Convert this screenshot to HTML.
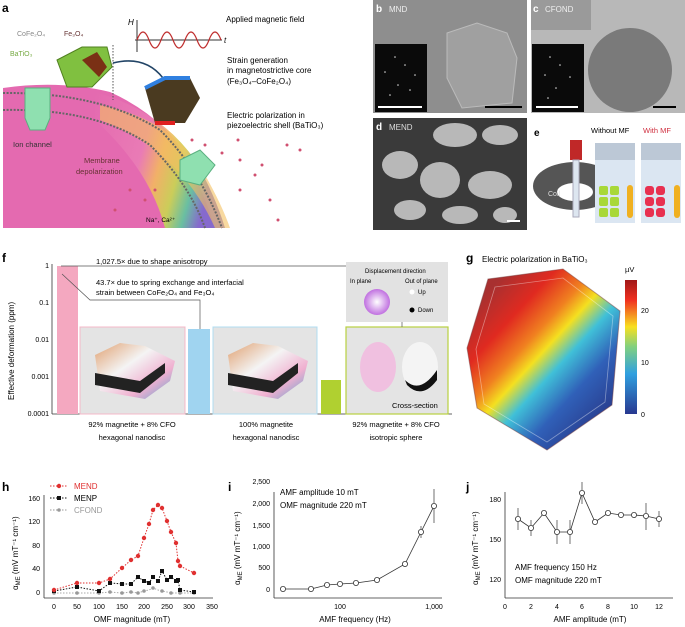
<!DOCTYPE html>
<html><head><meta charset="utf-8"><style>
html,body{margin:0;padding:0;background:#fff;}
svg{display:block;font-family:"Liberation Sans",sans-serif;}
</style></head><body>
<svg width="685" height="627" viewBox="0 0 685 627" xmlns="http://www.w3.org/2000/svg">
<defs>
<linearGradient id="cell" x1="0" y1="0" x2="1" y2="0.3">
<stop offset="0" stop-color="#e46ab0"/><stop offset="0.45" stop-color="#ea7db6"/><stop offset="0.6" stop-color="#f3b860"/><stop offset="0.75" stop-color="#c8d850"/><stop offset="0.88" stop-color="#5cc8a0"/><stop offset="1" stop-color="#7c6ad0"/></linearGradient>
<linearGradient id="gpol" gradientUnits="userSpaceOnUse" x1="480" y1="300" x2="610" y2="420">
<stop offset="0" stop-color="#a83030"/><stop offset="0.2" stop-color="#e02a20"/><stop offset="0.36" stop-color="#f08020"/><stop offset="0.46" stop-color="#f4e020"/><stop offset="0.58" stop-color="#40c0d8"/><stop offset="0.75" stop-color="#3060b8"/><stop offset="1" stop-color="#283888"/></linearGradient>
<linearGradient id="cbar" x1="0" y1="1" x2="0" y2="0">
<stop offset="0" stop-color="#283890"/><stop offset="0.3" stop-color="#30a0e0"/><stop offset="0.5" stop-color="#80d080"/><stop offset="0.65" stop-color="#f8e020"/><stop offset="0.85" stop-color="#f03020"/><stop offset="1" stop-color="#a01818"/></linearGradient>
<radialGradient id="wheel"><stop offset="0" stop-color="#fff"/><stop offset="1" stop-color="#c070e0"/></radialGradient>
<linearGradient id="disc" x1="0" y1="0" x2="1" y2="1"><stop offset="0" stop-color="#e0a070"/><stop offset="0.4" stop-color="#f4f4f4"/><stop offset="0.7" stop-color="#f0b0d0"/><stop offset="1" stop-color="#60a0d0"/></linearGradient>
</defs>

<!-- Panel a -->
<text x="2" y="12" font-size="12" font-weight="bold">a</text>
<path d="M3,88 Q60,80 110,92 Q150,110 175,140 Q200,180 215,228 L3,228 Z" fill="#e46ab0"/>
<path d="M95,92 Q160,110 195,160 Q215,195 225,228 L165,228 Q150,170 95,120 Z" fill="url(#cell)" opacity="0.9"/>
<path d="M100,105 Q175,120 205,175 Q222,205 230,228 L215,228 Q180,150 100,120 Z" fill="#f3c060" opacity="0.6"/>
<path d="M3,93 Q100,92 160,130 Q200,170 222,228" fill="none" stroke="#666" stroke-width="2" stroke-dasharray="2 1.5"/>
<path d="M3,110 Q95,108 150,145 Q190,185 205,228" fill="none" stroke="#666" stroke-width="2" stroke-dasharray="2 1.5"/>
<path d="M25,88 h25 v30 l-5,12 h-15 l-5,-12z" fill="#8fe0b0" stroke="#5ab080"/>
<text x="13" y="147" font-size="7.5" fill="#333">Ion channel</text>
<text x="84" y="163" font-size="7.5" fill="#633">Membrane</text>
<text x="76" y="174" font-size="7.5" fill="#633">depolarization</text>
<text x="146" y="222" font-size="6.5">Na⁺, Ca²⁺</text>
<path d="M180,160 l20,-10 l15,15 l-15,20 l-20,-5z" fill="#8fe0b0" stroke="#5ab080"/>
<g fill="#d05070"><circle cx="192" cy="140" r="1.5"/><circle cx="205" cy="145" r="1.5"/><circle cx="222" cy="153" r="1.5"/><circle cx="240" cy="160" r="1.5"/><circle cx="262" cy="165" r="1.5"/><circle cx="287" cy="145" r="1.5"/><circle cx="300" cy="150" r="1.5"/><circle cx="238" cy="140" r="1.5"/><circle cx="255" cy="175" r="1.5"/><circle cx="270" cy="200" r="1.5"/><circle cx="278" cy="220" r="1.5"/><circle cx="240" cy="190" r="1.5"/><circle cx="130" cy="190" r="1.5"/><circle cx="145" cy="200" r="1.5"/><circle cx="115" cy="210" r="1.5"/><circle cx="155" cy="190" r="1.5"/></g>
<text x="17" y="36" font-size="7" fill="#888">CoFe₂O₄</text>
<text x="64" y="36" font-size="7" fill="#633">Fe₃O₄</text>
<text x="10" y="56" font-size="7" fill="#7a4">BaTiO₃</text>
<path d="M57,60 l25,-13 h25 l5,20 l-20,20 h-25z" fill="#80c040" stroke="#508020"/>
<path d="M82,60 l15,-8 l10,15 l-8,10z" fill="#7a3015"/>
<line x1="113" y1="45" x2="113" y2="100" stroke="#555" stroke-dasharray="1.5 1.5"/>
<path d="M113,63 Q145,55 163,78" fill="none" stroke="#246" stroke-width="1.5"/>
<path d="M145,88 l20,-10 h25 l10,20 l-15,25 h-30z" fill="#4a3a20"/>
<path d="M145,88 l20,-10 h25" fill="none" stroke="#3080e0" stroke-width="4"/>
<path d="M175,123 h-20" stroke="#e02020" stroke-width="4"/>
<line x1="137" y1="20" x2="137" y2="52" stroke="#333"/><line x1="135" y1="40" x2="222" y2="40" stroke="#333"/>
<text x="128" y="25" font-size="8" font-style="italic">H</text><text x="224" y="43" font-size="8" font-style="italic">t</text>
<path d="M137,40 q6,-16 12,0 t12,0 t12,0 t12,0 t12,0 t12,0 t12,0" fill="none" stroke="#c03030" stroke-width="1.2"/>
<text x="226" y="22" font-size="8">Applied magnetic field</text>
<text x="227" y="63" font-size="8">Strain generation</text>
<text x="227" y="73" font-size="8">in magnetostrictive core</text>
<text x="227" y="84" font-size="8">(Fe₃O₄–CoFe₂O₄)</text>
<text x="227" y="118" font-size="8">Electric polarization in</text>
<text x="227" y="128" font-size="8">piezoelectric shell (BaTiO₃)</text>

<!-- Panel b -->
<rect x="373" y="0" width="154" height="113" fill="#8e8e8e"/>
<path d="M447,33 l30,-10 l30,10 l10,25 l-5,45 l-50,5 l-15,-30z" fill="#a0a0a0" stroke="#bbb"/>
<rect x="375" y="44" width="52" height="68" fill="#0a0a0a"/>
<g fill="#ddd"><circle cx="395" cy="57" r="0.8"/><circle cx="405" cy="65" r="0.8"/><circle cx="385" cy="72" r="0.8"/><circle cx="415" cy="75" r="0.8"/><circle cx="398" cy="85" r="0.8"/><circle cx="390" cy="95" r="0.8"/><circle cx="410" cy="90" r="0.8"/></g>
<line x1="378" y1="107" x2="422" y2="107" stroke="#fff" stroke-width="2"/>
<line x1="485" y1="107" x2="522" y2="107" stroke="#000" stroke-width="2"/>
<text x="376" y="12" font-size="10" font-weight="bold" fill="#fff">b</text><text x="389" y="12" font-size="8" fill="#eee">MND</text>
<!-- Panel c -->
<rect x="531" y="0" width="154" height="113" fill="#b8b8b8"/>
<circle cx="630" cy="70" r="42" fill="#7a7a7a"/>
<rect x="531" y="0" width="60" height="30" fill="#9a9a9a"/>
<rect x="532" y="44" width="52" height="68" fill="#0a0a0a"/>
<g fill="#ddd"><circle cx="550" cy="57" r="0.8"/><circle cx="560" cy="65" r="0.8"/><circle cx="545" cy="75" r="0.8"/><circle cx="570" cy="77" r="0.8"/><circle cx="556" cy="88" r="0.8"/><circle cx="548" cy="98" r="0.8"/></g>
<line x1="536" y1="107" x2="578" y2="107" stroke="#fff" stroke-width="2"/>
<line x1="653" y1="107" x2="676" y2="107" stroke="#000" stroke-width="2"/>
<text x="533" y="12" font-size="10" font-weight="bold" fill="#fff">c</text><text x="545" y="12" font-size="8" fill="#eee">CFOND</text>
<!-- Panel d -->
<rect x="373" y="118" width="154" height="112" fill="#3a3a3a"/>
<g fill="#b8b8b8"><ellipse cx="400" cy="165" rx="18" ry="14"/><ellipse cx="440" cy="180" rx="20" ry="18"/><ellipse cx="455" cy="135" rx="22" ry="12"/><ellipse cx="500" cy="135" rx="18" ry="10"/><ellipse cx="490" cy="185" rx="22" ry="14"/><ellipse cx="410" cy="210" rx="16" ry="10"/><ellipse cx="460" cy="215" rx="18" ry="9"/><ellipse cx="505" cy="215" rx="12" ry="8"/></g>
<line x1="507" y1="221" x2="520" y2="221" stroke="#fff" stroke-width="2"/>
<text x="376" y="130" font-size="10" font-weight="bold" fill="#fff">d</text><text x="389" y="130" font-size="8" fill="#ddd">MEND</text>
<!-- Panel e -->
<text x="534" y="136" font-size="10" font-weight="bold">e</text>
<text x="591" y="133" font-size="7.5">Without MF</text><text x="643" y="133" font-size="7.5" fill="#d03040">With MF</text>
<ellipse cx="575" cy="186" rx="42" ry="24" fill="#555"/><ellipse cx="575" cy="192" rx="18" ry="9" fill="#fff"/>
<text x="548" y="196" font-size="7" fill="#ddd">Coil</text>
<rect x="570" y="140" width="12" height="20" fill="#c02828"/>
<rect x="573" y="160" width="6" height="57" fill="#dde6f0" stroke="#aab"/>
<rect x="595" y="143" width="40" height="80" fill="#dbe6f2"/><rect x="595" y="143" width="40" height="17" fill="#bcc8d6"/>
<rect x="641" y="143" width="40" height="80" fill="#dbe6f2"/><rect x="641" y="143" width="40" height="17" fill="#bcc8d6"/>
<g fill="#a8d838"><rect x="599" y="186" width="9" height="9" rx="2"/><rect x="610" y="186" width="9" height="9" rx="2"/><rect x="599" y="197" width="9" height="9" rx="2"/><rect x="610" y="197" width="9" height="9" rx="2"/><rect x="599" y="208" width="9" height="9" rx="2"/><rect x="610" y="208" width="9" height="9" rx="2"/></g>
<g fill="#e83050"><rect x="645" y="186" width="9" height="9" rx="3"/><rect x="656" y="186" width="9" height="9" rx="3"/><rect x="645" y="197" width="9" height="9" rx="3"/><rect x="656" y="197" width="9" height="9" rx="3"/><rect x="645" y="208" width="9" height="9" rx="3"/><rect x="656" y="208" width="9" height="9" rx="3"/></g>
<g fill="#f0b020"><rect x="627" y="185" width="6" height="33" rx="3"/><rect x="674" y="185" width="6" height="33" rx="3"/></g>

<!-- Panel f -->
<text x="2" y="262" font-size="12" font-weight="bold">f</text>
<text transform="translate(14,400) rotate(-90)" font-size="8">Effective deformation (ppm)</text>
<line x1="52" y1="264" x2="52" y2="414" stroke="#333" stroke-width="0.8"/>
<line x1="52" y1="414" x2="452" y2="414" stroke="#333" stroke-width="0.8"/>
<g font-size="7" text-anchor="end"><text x="49" y="268">1</text><text x="49" y="305">0.1</text><text x="49" y="342">0.01</text><text x="49" y="379">0.001</text><text x="49" y="416">0.0001</text></g>
<rect x="57" y="266" width="21" height="148" fill="#f4a8c0"/>
<rect x="80" y="327" width="105" height="87" fill="#e4e4e4" stroke="#f4b8c8"/>
<rect x="188" y="329" width="22" height="85" fill="#a0d4f0"/>
<rect x="213" y="327" width="104" height="87" fill="#e4e4e4" stroke="#b0dcf0"/>
<rect x="321" y="380" width="20" height="34" fill="#b0d030"/>
<rect x="346" y="327" width="102" height="87" fill="#e4e4e4" stroke="#b8d040" stroke-width="1.2"/>
<path d="M95,355 l25,-12 l25,3 l30,15 l-5,20 l-25,18 l-45,-8z" fill="url(#disc)"/><path d="M95,373 l45,8 l25,-18 l0,10 l-25,20 l-45,-8z" fill="#222"/>
<path d="M228,355 l25,-12 l25,3 l30,15 l-5,20 l-25,18 l-45,-8z" fill="url(#disc)"/><path d="M228,373 l45,8 l25,-18 l0,10 l-25,20 l-45,-8z" fill="#222"/>
<ellipse cx="378" cy="367" rx="18" ry="25" fill="#f0c0e0"/><ellipse cx="420" cy="367" rx="18" ry="25" fill="#f4f4f4"/><path d="M405,380 q15,15 32,-10 v10 q-15,20 -30,5z" fill="#111"/>
<text x="392" y="408" font-size="7.5">Cross-section</text>
<path d="M61,266 L61,266 L402,266 L402,327" fill="none" stroke="#555" stroke-width="0.7"/>
<path d="M62,274 L90,300 L200,300 L200,329" fill="none" stroke="#555" stroke-width="0.7"/>
<text x="96" y="264" font-size="7.5">1,027.5× due to shape anisotropy</text>
<text x="96" y="285" font-size="7.5">43.7× due to spring exchange and interfacial</text>
<text x="96" y="295" font-size="7.5">strain between CoFe₂O₄ and Fe₃O₄</text>
<rect x="346" y="262" width="102" height="60" fill="#e2e2e2"/>
<text x="365" y="273" font-size="6">Displacement direction</text>
<text x="350" y="283" font-size="6">In plane</text><text x="405" y="283" font-size="6">Out of plane</text>
<circle cx="377" cy="302" r="13" fill="url(#wheel)"/>
<circle cx="412" cy="292" r="2.5" fill="#fff"/><text x="418" y="294" font-size="6">Up</text>
<circle cx="412" cy="310" r="2.5" fill="#000"/><text x="418" y="312" font-size="6">Down</text>
<g font-size="7.5" text-anchor="middle"><text x="132" y="427">92% magnetite + 8% CFO</text><text x="132" y="440">hexagonal nanodisc</text><text x="266" y="427">100% magnetite</text><text x="266" y="440">hexagonal nanodisc</text><text x="396" y="427">92% magnetite + 8% CFO</text><text x="396" y="440">isotropic sphere</text></g>

<!-- Panel g -->
<text x="466" y="262" font-size="12" font-weight="bold">g</text>
<text x="482" y="262" font-size="8">Electric polarization in BaTiO₃</text>
<path d="M488,279 l75,-10 l57,42 l-8,94 l-65,45 l-70,-42 l-10,-60z" fill="url(#gpol)"/>
<path d="M488,279 l75,-10 l57,42 l-8,94 l-65,45 l-70,-42 l-10,-60z" fill="none" stroke="#7a4040" stroke-width="1" opacity="0.5"/>
<path d="M495,287 l68,-9 l50,38 l-8,86 l-58,40 l-63,-38 l-8,-55z" fill="none" stroke="#fff" stroke-width="0.8" opacity="0.4"/>
<rect x="625" y="280" width="12" height="134" fill="url(#cbar)"/>
<text x="625" y="272" font-size="7.5">µV</text>
<g font-size="7"><text x="641" y="417">0</text><text x="641" y="365">10</text><text x="641" y="313">20</text></g>

<!-- Panel h -->
<text x="2" y="491" font-size="12" font-weight="bold">h</text>
<text transform="translate(18,590) rotate(-90)" font-size="8">α<tspan font-size="6" dy="2">ME</tspan><tspan dy="-2"> (mV mT⁻¹ cm⁻¹)</tspan></text>
<line x1="44" y1="495" x2="44" y2="598" stroke="#333" stroke-width="0.8"/>
<line x1="44" y1="598" x2="213" y2="598" stroke="#333" stroke-width="0.8"/>
<g font-size="7" text-anchor="end"><text x="40" y="595">0</text><text x="40" y="571">40</text><text x="40" y="548">80</text><text x="40" y="524">120</text><text x="40" y="501">160</text></g>
<g font-size="7" text-anchor="middle"><text x="54" y="609">0</text><text x="77" y="609">50</text><text x="99" y="609">100</text><text x="122" y="609">150</text><text x="144" y="609">200</text><text x="167" y="609">250</text><text x="189" y="609">300</text><text x="212" y="609">350</text></g>
<text x="132" y="622" font-size="8" text-anchor="middle">OMF magnitude (mT)</text>
<polyline fill="none" stroke="#aaa" stroke-dasharray="1.5 1.5" points="54,593 77,593 99,593 110,592 122,593 131,592 138,593 144,591 149,590 153,588 158,590 162,591 167,592 171,593 176,593 178,593 180,593 194,593"/>
<g fill="#999"><circle cx="54" cy="593" r="1.8"/><circle cx="77" cy="593" r="1.8"/><circle cx="99" cy="593" r="1.8"/><circle cx="110" cy="592" r="1.8"/><circle cx="122" cy="593" r="1.8"/><circle cx="131" cy="592" r="1.8"/><circle cx="138" cy="593" r="1.8"/><circle cx="144" cy="591" r="1.8"/><circle cx="153" cy="588" r="1.8"/><circle cx="162" cy="591" r="1.8"/><circle cx="171" cy="593" r="1.8"/><circle cx="180" cy="593" r="1.8"/><circle cx="194" cy="593" r="1.8"/></g>
<polyline fill="none" stroke="#111" stroke-dasharray="1.5 1.5" points="54,591 77,587 99,591 110,583 122,584 131,584 138,577 144,581 149,583 153,577 158,581 162,571 167,580 171,577 176,581 178,580 180,590 194,592"/>
<g fill="#111"><rect x="52" y="589" width="4" height="4"/><rect x="75" y="585" width="4" height="4"/><rect x="97" y="589" width="4" height="4"/><rect x="108" y="581" width="4" height="4"/><rect x="120" y="582" width="4" height="4"/><rect x="129" y="582" width="4" height="4"/><rect x="136" y="575" width="4" height="4"/><rect x="142" y="579" width="4" height="4"/><rect x="147" y="581" width="4" height="4"/><rect x="151" y="575" width="4" height="4"/><rect x="156" y="579" width="4" height="4"/><rect x="160" y="569" width="4" height="4"/><rect x="165" y="578" width="4" height="4"/><rect x="169" y="575" width="4" height="4"/><rect x="174" y="579" width="4" height="4"/><rect x="176" y="578" width="4" height="4"/><rect x="178" y="588" width="4" height="4"/><rect x="192" y="590" width="4" height="4"/></g>
<polyline fill="none" stroke="#e03030" stroke-dasharray="1.5 1.5" points="54,590 77,583 99,583 110,579 122,568 131,560 138,556 144,538 149,524 153,510 158,505 162,508 167,521 171,532 176,543 178,561 180,566 194,573"/>
<g fill="#e03030"><circle cx="54" cy="590" r="2.2"/><circle cx="77" cy="583" r="2.2"/><circle cx="99" cy="583" r="2.2"/><circle cx="110" cy="579" r="2.2"/><circle cx="122" cy="568" r="2.2"/><circle cx="131" cy="560" r="2.2"/><circle cx="138" cy="556" r="2.2"/><circle cx="144" cy="538" r="2.2"/><circle cx="149" cy="524" r="2.2"/><circle cx="153" cy="510" r="2.2"/><circle cx="158" cy="505" r="2.2"/><circle cx="162" cy="508" r="2.2"/><circle cx="167" cy="521" r="2.2"/><circle cx="171" cy="532" r="2.2"/><circle cx="176" cy="543" r="2.2"/><circle cx="178" cy="561" r="2.2"/><circle cx="180" cy="566" r="2.2"/><circle cx="194" cy="573" r="2.2"/></g>
<line x1="50" y1="486" x2="68" y2="486" stroke="#e03030" stroke-dasharray="1.5 1.5"/><circle cx="59" cy="486" r="2.2" fill="#e03030"/><text x="74" y="489" font-size="8" fill="#e03030">MEND</text>
<line x1="50" y1="498" x2="68" y2="498" stroke="#111" stroke-dasharray="1.5 1.5"/><rect x="57" y="496" width="4" height="4" fill="#111"/><text x="74" y="501" font-size="8">MENP</text>
<line x1="50" y1="510" x2="68" y2="510" stroke="#999" stroke-dasharray="1.5 1.5"/><circle cx="59" cy="510" r="1.8" fill="#999"/><text x="74" y="513" font-size="8" fill="#999">CFOND</text>

<!-- Panel i -->
<text x="228" y="491" font-size="12" font-weight="bold">i</text>
<text transform="translate(240,585) rotate(-90)" font-size="8">α<tspan font-size="6" dy="2">ME</tspan><tspan dy="-2"> (mV mT⁻¹ cm⁻¹)</tspan></text>
<line x1="274" y1="492" x2="274" y2="598" stroke="#333" stroke-width="0.8"/>
<line x1="274" y1="598" x2="442" y2="598" stroke="#333" stroke-width="0.8"/>
<g font-size="7" text-anchor="end"><text x="270" y="592">0</text><text x="270" y="570">500</text><text x="270" y="549">1,000</text><text x="270" y="528">1,500</text><text x="270" y="506">2,000</text><text x="270" y="484">2,500</text></g>
<g font-size="7" text-anchor="middle"><text x="340" y="609">100</text><text x="434" y="609">1,000</text></g>
<text x="355" y="622" font-size="8" text-anchor="middle">AMF frequency (Hz)</text>
<text x="280" y="495" font-size="8">AMF amplitude 10 mT</text>
<text x="280" y="508" font-size="8">OMF magnitude 220 mT</text>
<polyline fill="none" stroke="#333" stroke-width="0.8" points="283,589 311,589 327,585 340,584 356,583 377,580 405,564 421,532 434,506"/>
<g stroke="#333" stroke-width="0.7"><line x1="421" y1="526" x2="421" y2="538"/><line x1="434" y1="489" x2="434" y2="523"/><line x1="405" y1="561" x2="405" y2="567"/></g>
<g fill="#fff" stroke="#333" stroke-width="0.8"><circle cx="283" cy="589" r="2.6"/><circle cx="311" cy="589" r="2.6"/><circle cx="327" cy="585" r="2.6"/><circle cx="340" cy="584" r="2.6"/><circle cx="356" cy="583" r="2.6"/><circle cx="377" cy="580" r="2.6"/><circle cx="405" cy="564" r="2.6"/><circle cx="421" cy="532" r="2.6"/><circle cx="434" cy="506" r="2.6"/></g>

<!-- Panel j -->
<text x="466" y="491" font-size="12" font-weight="bold">j</text>
<text transform="translate(478,585) rotate(-90)" font-size="8">α<tspan font-size="6" dy="2">ME</tspan><tspan dy="-2"> (mV mT⁻¹ cm⁻¹)</tspan></text>
<line x1="505" y1="492" x2="505" y2="598" stroke="#333" stroke-width="0.8"/>
<line x1="505" y1="598" x2="673" y2="598" stroke="#333" stroke-width="0.8"/>
<g font-size="7" text-anchor="end"><text x="501" y="502">180</text><text x="501" y="542">150</text><text x="501" y="582">120</text></g>
<g font-size="7" text-anchor="middle"><text x="505" y="609">0</text><text x="531" y="609">2</text><text x="557" y="609">4</text><text x="582" y="609">6</text><text x="608" y="609">8</text><text x="634" y="609">10</text><text x="659" y="609">12</text></g>
<text x="590" y="622" font-size="8" text-anchor="middle">AMF amplitude (mT)</text>
<text x="515" y="570" font-size="8">AMF frequency 150 Hz</text>
<text x="515" y="583" font-size="8">OMF magnitude 220 mT</text>
<polyline fill="none" stroke="#333" stroke-width="0.8" points="518,519 531,528 544,513 557,532 570,532 582,493 595,522 608,513 621,515 634,515 646,516 659,519"/>
<g stroke="#333" stroke-width="0.7"><line x1="518" y1="508" x2="518" y2="530"/><line x1="531" y1="520" x2="531" y2="536"/><line x1="557" y1="520" x2="557" y2="544"/><line x1="570" y1="520" x2="570" y2="544"/><line x1="582" y1="482" x2="582" y2="504"/><line x1="646" y1="503" x2="646" y2="530"/><line x1="659" y1="511" x2="659" y2="527"/></g>
<g fill="#fff" stroke="#333" stroke-width="0.8"><circle cx="518" cy="519" r="2.6"/><circle cx="531" cy="528" r="2.6"/><circle cx="544" cy="513" r="2.6"/><circle cx="557" cy="532" r="2.6"/><circle cx="570" cy="532" r="2.6"/><circle cx="582" cy="493" r="2.6"/><circle cx="595" cy="522" r="2.6"/><circle cx="608" cy="513" r="2.6"/><circle cx="621" cy="515" r="2.6"/><circle cx="634" cy="515" r="2.6"/><circle cx="646" cy="516" r="2.6"/><circle cx="659" cy="519" r="2.6"/></g>
</svg>
</body></html>
